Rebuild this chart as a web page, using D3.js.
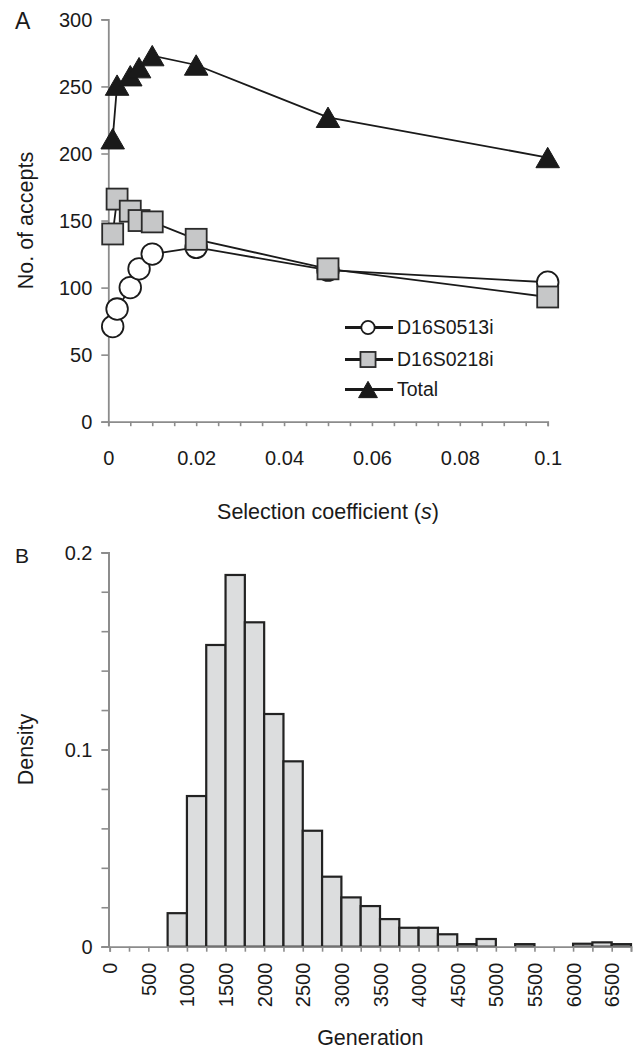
<!DOCTYPE html>
<html><head><meta charset="utf-8">
<script src="https://cdn.jsdelivr.net/npm/d3@7"></script>
<style>
body{margin:0;background:#fff}
svg text{font-family:"Liberation Sans",Arial,sans-serif;fill:#1a1a1a}
</style>
</head><body>
<svg id="c" width="639" height="1050"></svg>
<script>
// ---------- Panel A data ----------
const sValues = [0.001, 0.002, 0.005, 0.007, 0.01, 0.02, 0.05, 0.1];
const d16s0513i = [71, 84, 100, 114, 125, 130, 113, 104];
const d16s0218i = [140, 166, 157, 150, 149, 136, 114, 93];
const totalAccepts = [211, 251, 258, 264, 273, 266, 227, 197];
const seriesNames = ["D16S0513i", "D16S0218i", "Total"];
const yTicksA = [0, 50, 100, 150, 200, 250, 300];
const xTicksA = [0, 0.02, 0.04, 0.06, 0.08, 0.1];
const xMinorA = d3.range(0, 0.1001, 0.005);

// ---------- Panel B data ----------
const binStarts = [750,1000,1250,1500,1750,2000,2250,2500,2750,3000,3250,3500,3750,4000,4250,4500,4750,5000,5250,5500,5750,6000,6250,6500];
const density   = [0.017,0.0764,0.153,0.1885,0.1645,0.118,0.094,0.0588,0.0355,0.025,0.0206,0.014,0.0096,0.0096,0.0063,0.0013,0.0039,0,0.0013,0,0,0.0015,0.0022,0.0013];
const binWidth = 250;
const xTicksB = [0,500,1000,1500,2000,2500,3000,3500,4000,4500,5000,5500,6000,6500];
const xMinorB = d3.range(0, 6751, 250);
const yTicksB = [0, 0.1, 0.2];
const yMinorB = [0, 0.02, 0.04, 0.06, 0.08, 0.1, 0.12, 0.14, 0.16, 0.18, 0.2];

const svg = d3.select("#c");
const axisColor = "#8c8c8c";
const ink = "#1a1a1a";

function styleAxis(g){
  g.select(".domain").attr("stroke", axisColor).attr("stroke-width", 1.8);
  g.selectAll(".tick line").attr("stroke", axisColor).attr("stroke-width", 1.6);
  g.selectAll(".tick text").style("font-size", "20px").attr("fill", ink);
}

// ================= Panel A =================
const xA = d3.scaleLinear().domain([0, 0.1]).range([108.3, 547.7]);
const yA = d3.scaleLinear().domain([0, 300]).range([421.7, 19.4]);

const gA = svg.append("g");
gA.append("g").attr("transform", `translate(${xA(0)},0)`)
  .call(d3.axisLeft(yA).tickValues(yTicksA).tickSize(7).tickPadding(9).tickFormat(d3.format("d")))
  .call(styleAxis)
  .call(g => g.selectAll(".tick text").attr("dy", "0.34em"));
gA.append("g").attr("transform", `translate(0,${yA(0)})`)
  .call(d3.axisBottom(xA).tickValues(xMinorA).tickSize(4.5).tickFormat(""))
  .call(styleAxis);
gA.append("g").attr("transform", `translate(0,${yA(0)})`)
  .call(d3.axisBottom(xA).tickValues(xTicksA).tickSize(0).tickPadding(43).tickFormat(d => d === 0 ? "0" : d3.format("")(+d.toFixed(2))))
  .call(styleAxis)
  .call(g => g.select(".domain").remove())
  .call(g => g.selectAll(".tick text").attr("dy", "0em"));

gA.append("text").attr("x", 15).attr("y", 29).style("font-size", "23px").text("A");

const tA = gA.append("text").attr("x", xA(0.05)).attr("y", 519).attr("text-anchor", "middle").style("font-size", "21.5px");
tA.append("tspan").text("Selection coefficient (");
tA.append("tspan").style("font-style", "italic").text("s");
tA.append("tspan").text(")");

gA.append("text").attr("transform", `translate(33,${(yA(0) + yA(300)) / 2}) rotate(-90)`)
  .attr("text-anchor", "middle").style("font-size", "21.5px").text("No. of accepts");

const lineA = d3.line().x((d, i) => xA(sValues[i])).y(d => yA(d));

function drawMarker(sel, kind, scale){
  const k = scale || 1;
  if (kind === 0) {
    sel.append("circle").attr("r", 10.8 * k).attr("fill", "#fff").attr("stroke", ink).attr("stroke-width", 1.8);
  } else if (kind === 1) {
    const s = 21 * k;
    sel.append("rect").attr("x", -s / 2).attr("y", -s / 2).attr("width", s).attr("height", s)
      .attr("fill", "#c6c7c8").attr("stroke", "#2a2a2a").attr("stroke-width", 1.8);
  } else {
    const size = 240 * k * k;
    const sh = Math.sqrt(size / (Math.sqrt(3) * 3)) / 2;
    sel.append("path").attr("transform", `translate(0,${sh})`)
      .attr("d", d3.symbol(d3.symbolTriangle, size)()).attr("fill", ink).attr("stroke", ink).attr("stroke-width", 1);
  }
}

const seriesA = [d16s0513i, d16s0218i, totalAccepts];
seriesA.forEach((vals, si) => {
  gA.append("path").datum(vals).attr("d", lineA).attr("fill", "none").attr("stroke", ink).attr("stroke-width", 1.8);
  vals.forEach((v, i) => {
    const m = gA.append("g").attr("transform", `translate(${xA(sValues[i])},${yA(v)})`);
    drawMarker(m, si, 1);
  });
});

// legend
const legY = [327.5, 359.5, 389.5];
seriesNames.forEach((name, i) => {
  const g = gA.append("g").attr("transform", `translate(0,${legY[i]})`);
  g.append("line").attr("x1", 345).attr("x2", 393).attr("y1", 0).attr("y2", 0).attr("stroke", ink).attr("stroke-width", 3.2);
  const m = g.append("g").attr("transform", "translate(368,0)");
  drawMarker(m, i, i === 0 ? 0.62 : (i === 1 ? 0.72 : 0.8));
  g.append("text").attr("x", 397).attr("y", 0).attr("dy", "0.35em").style("font-size", "19.5px").text(name);
});

// ================= Panel B =================
const xB = d3.scaleLinear().domain([0, 6750]).range([109.7, 631]);
const yB = d3.scaleLinear().domain([0, 0.2]).range([946.7, 552.3]);
const gB = svg.append("g");

gB.selectAll("rect.bar").data(binStarts.map((b, i) => ({b, v: density[i]})).filter(d => d.v > 0))
  .enter().append("rect").attr("class", "bar")
  .attr("x", d => xB(d.b)).attr("width", d => xB(d.b + binWidth) - xB(d.b))
  .attr("y", d => yB(d.v)).attr("height", d => yB(0) - yB(d.v))
  .attr("fill", "#dcddde").attr("stroke", "#222").attr("stroke-width", 2.2);

gB.append("g").attr("transform", `translate(108.5,0)`)
  .call(d3.axisLeft(yB).tickValues(yMinorB).tickSize(7).tickFormat(""))
  .call(styleAxis);
gB.append("g").attr("transform", `translate(108.5,0)`)
  .call(d3.axisLeft(yB).tickValues(yTicksB).tickSize(7).tickPadding(9).tickFormat(d => d === 0 ? "0" : String(d)))
  .call(styleAxis)
  .call(g => g.selectAll(".tick text").attr("dy", "0.34em"));
gB.append("g").attr("transform", `translate(0,${yB(0)})`)
  .call(d3.axisBottom(xB).tickValues(xMinorB).tickSize(5).tickFormat(""))
  .call(styleAxis);
gB.append("g").attr("transform", `translate(0,${yB(0)})`)
  .call(d3.axisBottom(xB).tickValues(xTicksB).tickSize(0).tickFormat(d3.format("d")))
  .call(styleAxis)
  .call(g => g.select(".domain").remove())
  .call(g => g.selectAll(".tick text")
    .attr("transform", "translate(0,16) rotate(-90)")
    .attr("x", 0).attr("y", 0).attr("dy", "0.35em").attr("text-anchor", "end"));

gB.append("text").attr("x", 15).attr("y", 563).style("font-size", "21px").text("B");
gB.append("text").attr("x", (xB(0) + xB(6750)) / 2).attr("y", 1045).attr("text-anchor", "middle").style("font-size", "21.5px").text("Generation");
gB.append("text").attr("transform", `translate(33,${(yB(0) + yB(0.2)) / 2}) rotate(-90)`)
  .attr("text-anchor", "middle").style("font-size", "21.5px").text("Density");
</script>
</body></html>
